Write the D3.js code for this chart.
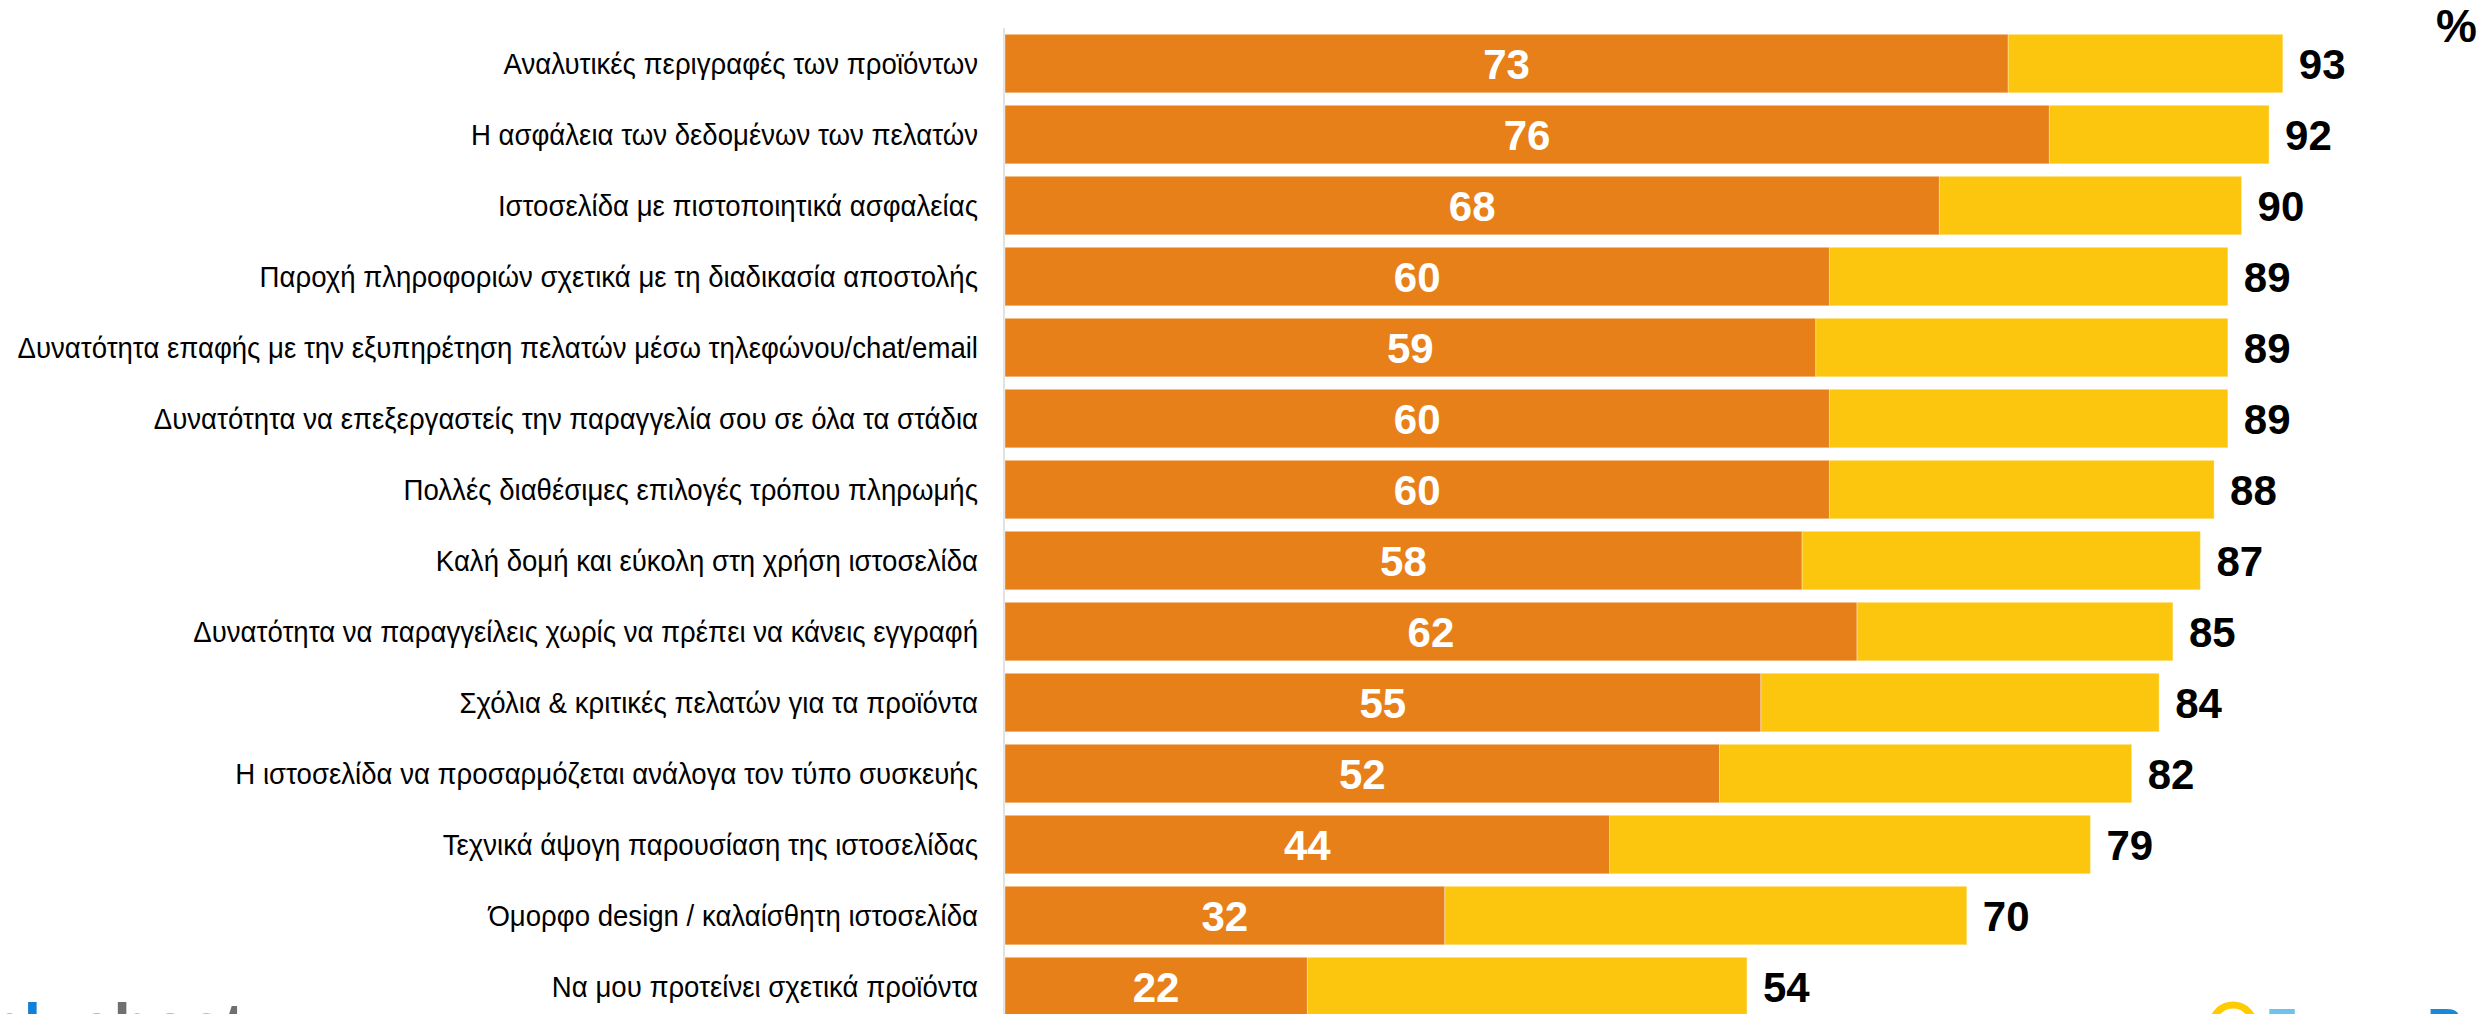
<!DOCTYPE html>
<html>
<head>
<meta charset="utf-8">
<script src="https://cdn.jsdelivr.net/npm/d3@7"></script>
<style>
  html, body { margin: 0; padding: 0; background: #ffffff; }
  svg { display: block; }
</style>
</head>
<body>
<script>
const categories = [
  "Αναλυτικές περιγραφές των προϊόντων",
  "Η ασφάλεια των δεδομένων των πελατών",
  "Ιστοσελίδα με πιστοποιητικά ασφαλείας",
  "Παροχή πληροφοριών σχετικά με τη διαδικασία αποστολής",
  "Δυνατότητα επαφής με την εξυπηρέτηση πελατών μέσω τηλεφώνου/chat/email",
  "Δυνατότητα να επεξεργαστείς την παραγγελία σου σε όλα τα στάδια",
  "Πολλές διαθέσιμες επιλογές τρόπου πληρωμής",
  "Καλή δομή και εύκολη στη χρήση ιστοσελίδα",
  "Δυνατότητα να παραγγείλεις χωρίς να πρέπει να κάνεις εγγραφή",
  "Σχόλια & κριτικές πελατών για τα προϊόντα",
  "Η ιστοσελίδα να προσαρμόζεται ανάλογα τον τύπο συσκευής",
  "Τεχνικά άψογη παρουσίαση της ιστοσελίδας",
  "Όμορφο design / καλαίσθητη ιστοσελίδα",
  "Να μου προτείνει σχετικά προϊόντα"
];
const veryImportant = [73, 76, 68, 60, 59, 60, 60, 58, 62, 55, 52, 44, 32, 22];
const totalImportant = [93, 92, 90, 89, 89, 89, 88, 87, 85, 84, 82, 79, 70, 54];
const unitLabel = "%";

const W = 2486, H = 1014;
const ORANGE = "#E8801A", YELLOW = "#FCC60F";

const svg = d3.select("body").append("svg")
  .attr("width", W).attr("height", H)
  .attr("viewBox", `0 0 ${W} ${H}`);

const x = d3.scaleLinear().domain([0, 100]).range([1005, 1005 + 1374]);
const y = d3.scaleBand().domain(categories).range([34.3, 1015.8]).paddingInner(0.176).paddingOuter(0);

const rows = categories.map((c, i) => ({ c, v1: veryImportant[i], v2: totalImportant[i] }));

// axis line
svg.append("line")
  .attr("x1", x(0) - 1).attr("x2", x(0) - 1)
  .attr("y1", 28).attr("y2", H)
  .attr("stroke", "#d9d9d9").attr("stroke-width", 1.5);

const g = svg.append("g");

// yellow (total) segment
g.selectAll("rect.total").data(rows).enter().append("rect")
  .attr("class", "total")
  .attr("x", d => x(d.v1))
  .attr("y", d => y(d.c))
  .attr("width", d => x(d.v2) - x(d.v1))
  .attr("height", y.bandwidth())
  .attr("fill", YELLOW)
  .attr("stroke", "rgba(255,255,255,0.35)").attr("stroke-width", 1);

// orange segment
g.selectAll("rect.very").data(rows).enter().append("rect")
  .attr("class", "very")
  .attr("x", x(0))
  .attr("y", d => y(d.c))
  .attr("width", d => x(d.v1) - x(0))
  .attr("height", y.bandwidth())
  .attr("fill", ORANGE)
  .attr("stroke", "rgba(255,255,255,0.35)").attr("stroke-width", 1);

// white values inside orange
g.selectAll("text.v1").data(rows).enter().append("text")
  .attr("x", d => (x(0) + x(d.v1)) / 2)
  .attr("y", d => y(d.c) + y.bandwidth() / 2)
  .attr("dy", "0.36em")
  .attr("text-anchor", "middle")
  .attr("font-family", "'Liberation Sans', Arial, sans-serif")
  .attr("font-weight", "bold")
  .attr("font-size", 42)
  .attr("fill", "#ffffff")
  .text(d => d.v1);

// black totals
g.selectAll("text.v2").data(rows).enter().append("text")
  .attr("x", d => x(d.v2) + 16)
  .attr("y", d => y(d.c) + y.bandwidth() / 2)
  .attr("dy", "0.36em")
  .attr("text-anchor", "start")
  .attr("font-family", "'Liberation Sans', Arial, sans-serif")
  .attr("font-weight", "bold")
  .attr("font-size", 42)
  .attr("fill", "#000000")
  .text(d => d.v2);

// category labels (condensed look via horizontal scale)
g.selectAll("text.cat").data(rows).enter().append("text")
  .attr("transform", d => `translate(978,${y(d.c) + y.bandwidth() / 2}) scale(0.92,1)`)
  .attr("x", 0).attr("y", 0)
  .attr("dy", "0.36em")
  .attr("text-anchor", "end")
  .attr("font-family", "'Liberation Sans', Arial, sans-serif")
  .attr("font-size", 30)
  .attr("fill", "#000000")
  .text(d => d.c);

// unit label
svg.append("text")
  .attr("x", 2477).attr("y", 42)
  .attr("text-anchor", "end")
  .attr("font-family", "'Liberation Sans', Arial, sans-serif")
  .attr("font-weight", "bold")
  .attr("font-size", 46)
  .attr("fill", "#000000")
  .text(unitLabel);

// logos (partially visible at bottom edge)
const logoL = svg.append("text")
  .attr("x", -14).attr("y", 1046)
  .attr("font-family", "'Liberation Sans', Arial, sans-serif")
  .attr("font-weight", "bold")
  .attr("font-size", 62);
logoL.append("tspan").attr("fill", "#1180d8").text("blue");
logoL.append("tspan").attr("fill", "#707070").text("host");

svg.append("circle")
  .attr("cx", 2233).attr("cy", 1026).attr("r", 21)
  .attr("fill", "none").attr("stroke", "#FFCC00").attr("stroke-width", 7);
const logoR = svg.append("text")
  .attr("x", 2266).attr("y", 1044)
  .attr("font-family", "'Liberation Sans', Arial, sans-serif")
  .attr("font-weight", "bold")
  .attr("font-size", 50);
logoR.append("tspan").attr("fill", "#6cc3ec").text("Focus ");
logoR.append("tspan").attr("fill", "#1a8ad4").text("Bari");
</script>
</body>
</html>
